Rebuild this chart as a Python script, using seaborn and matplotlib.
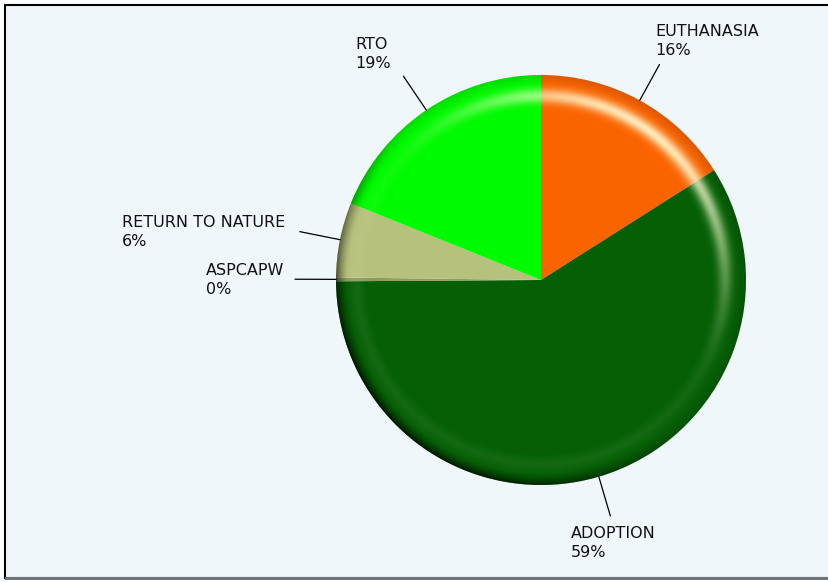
import matplotlib
matplotlib.use("Agg")
import matplotlib.pyplot as plt
import matplotlib.patches as mpatches
import seaborn as sns
import numpy as np

# Data
categories = ["EUTHANASIA", "ADOPTION", "ASPCAPW", "RETURN TO NATURE", "RTO"]
values = [16.0, 58.9, 0.3, 5.9, 18.9]
colors = ["#FA6400", "#055F05", "#8E9C5E", "#B6C17C", "#00FA00"]

# label layout: (ha, va, dx, dy) relative to leader-line end, in pixels
label_layout = [
    ("left", "bottom", -4, 6),
    ("center", "top", 3, -10),
    ("right", "center", -11, -1),
    ("right", "center", -15, 0),
    ("right", "bottom", -12, 5),
]

W, H = 829, 582
sns.set_theme(style="white")
plt.rcParams["font.family"] = ["DejaVu Sans"]

fig = plt.figure(figsize=(W / 100, H / 100), dpi=100)
fig.patch.set_facecolor("white")

# chart frame
frame = mpatches.Rectangle((5 / W, 4 / H), 1.2, (H - 9) / H, transform=fig.transFigure,
                           facecolor="#F0F7FB", edgecolor="black", linewidth=1.5, zorder=-2)
fig.patches.append(frame)
bottom = mpatches.Rectangle((5 / W, 2 / H), 1.0, 3 / H, transform=fig.transFigure,
                            facecolor="#6E7479", edgecolor="none", zorder=-1)
fig.patches.append(bottom)

ax = fig.add_axes([0, 0, 1, 1])
ax.patch.set_alpha(0)

cx, cy, r = 541, H - 280, 205
wedges, _ = ax.pie(values, colors=colors, startangle=90, counterclock=False,
                   center=(cx, cy), radius=r, frame=True,
                   wedgeprops=dict(linewidth=0))

# bevel shading overlay
n = 500
xs = np.linspace(-1, 1, n)
X, Y = np.meshgrid(xs, xs[::-1])
rho = np.sqrt(X ** 2 + Y ** 2)
theta = np.degrees(np.arctan2(Y, X))
light = np.cos(np.radians(theta - 55))
band = np.exp(-((rho - 0.9) / 0.035) ** 2)
hi = np.clip(light, 0, 1) ** 2 * band * 0.8 + band * 0.06
rim = np.clip((rho - 0.94) / 0.06, 0, 1) ** 1.5
dark = np.clip(-np.cos(np.radians(theta - 45)), 0, 1) * rim * 0.65 + rim * 0.12
rgba = np.zeros((n, n, 4))
a = hi + dark * (1 - hi)
rgb_val = np.where(a > 0, hi / np.maximum(a, 1e-6), 0)
rgba[..., 0] = rgb_val * 1.0
rgba[..., 1] = rgb_val * 1.0
rgba[..., 2] = rgb_val * 0.85
rgba[..., 3] = np.clip(a, 0, 1)
img = ax.imshow(rgba, extent=(cx - r, cx + r, cy - r, cy + r), zorder=3,
                interpolation="bilinear")
clip = mpatches.Circle((cx, cy), r, transform=ax.transData)
img.set_clip_path(clip)
ax.set_xlim(0, W)
ax.set_ylim(0, H)
ax.set_axis_off()

# labels with leader lines
total = sum(values)
for w, name, val, (ha, va, dx, dy) in zip(wedges, categories, values, label_layout):
    mid = np.radians((w.theta1 + w.theta2) / 2)
    x0, y0 = cx + r * np.cos(mid), cy + r * np.sin(mid)
    x1, y1 = cx + 1.2 * r * np.cos(mid), cy + 1.2 * r * np.sin(mid)
    ax.plot([x0, x1], [y0, y1], color="black", linewidth=0.9, zorder=4)
    ax.text(x1 + dx, y1 + dy, f"{name}\n{round(val / total * 100):.0f}%",
            ha=ha, va=va, multialignment="left", fontsize=11.5,
            linespacing=1.35, color="#111111", zorder=5)

fig.savefig("out.png", dpi=100)
